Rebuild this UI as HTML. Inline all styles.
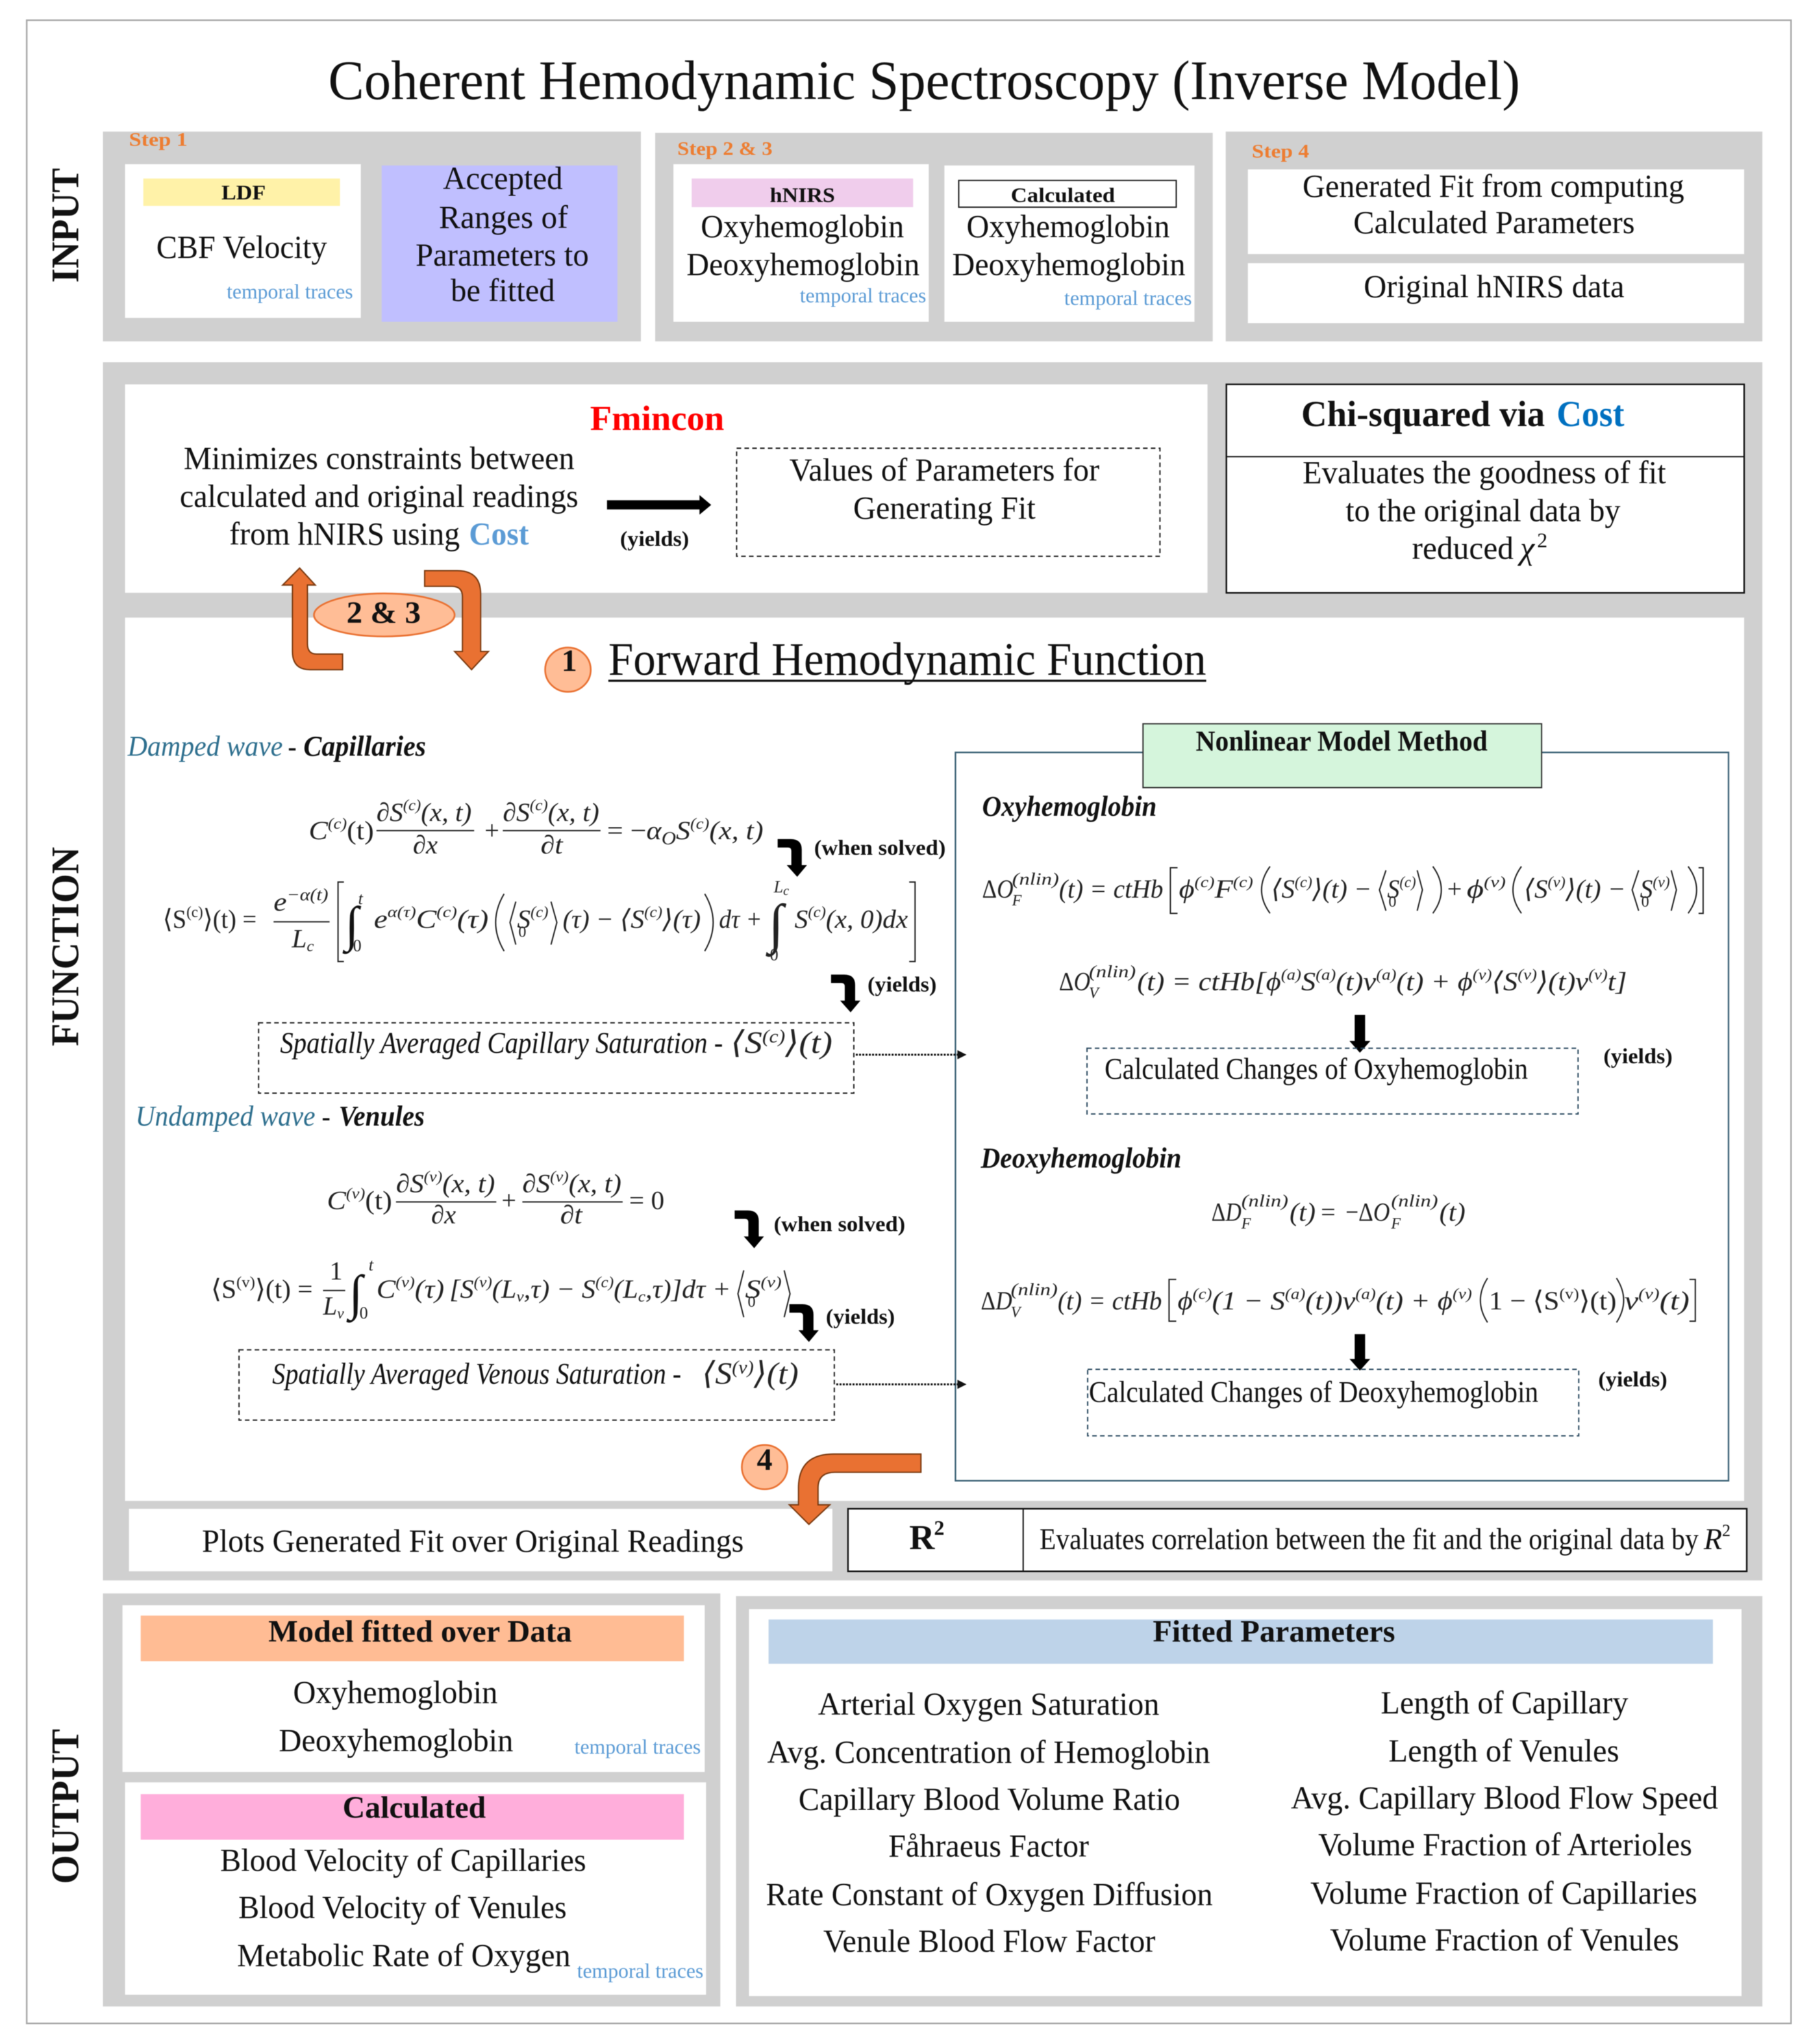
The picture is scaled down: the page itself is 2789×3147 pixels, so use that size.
<!DOCTYPE html>
<html><head><meta charset="utf-8"><style>
html,body{margin:0;padding:0;background:#fff}
svg{display:block;filter:blur(.6px)}
text{font-family:"Liberation Serif","DejaVu Serif",serif;fill:#111;font-size:25px}
.b{font-weight:bold}
.tt{fill:#5b9bd5;font-size:16px}
.st{fill:#ed7d31;font-weight:bold;font-size:15px}
.h{font-weight:bold;font-size:24px}
.y{font-weight:bold;font-size:16.5px}
.m{font-style:italic;font-size:20px;fill:#222}
.i{font-style:italic;font-size:23px}
.bi{font-style:italic;font-weight:bold;font-size:22px}
.p{fill:none;stroke:#222;stroke-width:1}
.g{fill:#d0d0d0}.w{fill:#fff}
.d{fill:none;stroke:#222;stroke-width:1;stroke-dasharray:3.5 2.5}
.o{fill:#e97132;stroke:#7a3a10;stroke-width:1}
</style></head><body>
<svg xmlns="http://www.w3.org/2000/svg" xmlns:xlink="http://www.w3.org/1999/xlink" width="2789" height="3147" viewBox="0 0 1390.3 1568.8">
<defs>
<path id="ca" d="M0,0H10Q18.500,0 18.500,8V20H22.500L15,29L7,20H10.500V9Q10.500,6.500 8,6.500H0Z" fill="#000"/>
</defs>
<rect x="20.500" y="15.500" width="1354.500" height="1537.500" fill="#fff" stroke="#a8a8a8" stroke-width="1.200"/>

<text x="252" y="76" textLength="915" lengthAdjust="spacingAndGlyphs" style="font-size:43px">Coherent Hemodynamic Spectroscopy (Inverse Model)</text>

<text transform="translate(60,217) rotate(-90)" class="b" textLength="88" lengthAdjust="spacingAndGlyphs" style="font-size:30px">INPUT</text>
<text transform="translate(60,803) rotate(-90)" class="b" textLength="153" lengthAdjust="spacingAndGlyphs" style="font-size:30px">FUNCTION</text>
<text transform="translate(60,1446) rotate(-90)" class="b" textLength="119" lengthAdjust="spacingAndGlyphs" style="font-size:30px">OUTPUT</text>

<!-- INPUT -->
<rect class="g" x="79" y="101" width="413" height="161"/>
<rect class="g" x="503" y="102" width="428" height="160"/>
<rect class="g" x="941" y="101" width="412" height="161"/>
<text class="st" x="99" y="112" textLength="45" lengthAdjust="spacingAndGlyphs">Step 1</text>
<rect class="w" x="96" y="126" width="181" height="118"/>
<rect x="110" y="137" width="151" height="21" fill="#fff2a8"/>
<text class="b" x="170" y="153" textLength="34" lengthAdjust="spacingAndGlyphs" style="font-size:16px">LDF</text>
<text x="120" y="198" textLength="131" lengthAdjust="spacingAndGlyphs">CBF Velocity</text>
<text class="tt" x="174" y="229" textLength="97" lengthAdjust="spacingAndGlyphs">temporal traces</text>
<rect x="293" y="127" width="181" height="120" fill="#c0bfff"/>
<text x="340" y="145" textLength="92" lengthAdjust="spacingAndGlyphs">Accepted</text>
<text x="337" y="175" textLength="99" lengthAdjust="spacingAndGlyphs">Ranges of</text>
<text x="319" y="204" textLength="133" lengthAdjust="spacingAndGlyphs">Parameters to</text>
<text x="346" y="231" textLength="80" lengthAdjust="spacingAndGlyphs">be fitted</text>

<text class="st" x="520" y="119" textLength="73" lengthAdjust="spacingAndGlyphs">Step 2 &amp; 3</text>
<rect class="w" x="517" y="126" width="196" height="121"/>
<rect x="531" y="137" width="170" height="22" fill="#f0cdec"/>
<text class="b" x="591" y="155" textLength="50" lengthAdjust="spacingAndGlyphs" style="font-size:16px">hNIRS</text>
<text x="538" y="182" textLength="156" lengthAdjust="spacingAndGlyphs">Oxyhemoglobin</text>
<text x="527" y="211" textLength="179" lengthAdjust="spacingAndGlyphs">Deoxyhemoglobin</text>
<text class="tt" x="614" y="232" textLength="97" lengthAdjust="spacingAndGlyphs">temporal traces</text>
<rect class="w" x="725" y="127" width="192" height="120"/>
<rect x="736" y="138.500" width="167" height="20.500" fill="#fff" stroke="#222"/>
<text class="b" x="776" y="155" textLength="80" lengthAdjust="spacingAndGlyphs" style="font-size:16px">Calculated</text>
<text x="742" y="182" textLength="156" lengthAdjust="spacingAndGlyphs">Oxyhemoglobin</text>
<text x="731" y="211" textLength="179" lengthAdjust="spacingAndGlyphs">Deoxyhemoglobin</text>
<text class="tt" x="817" y="234" textLength="98" lengthAdjust="spacingAndGlyphs">temporal traces</text>

<text class="st" x="961" y="121" textLength="44" lengthAdjust="spacingAndGlyphs">Step 4</text>
<rect class="w" x="958" y="130" width="381" height="65"/>
<rect class="w" x="958" y="202" width="381" height="46"/>
<text x="1000" y="151" textLength="293" lengthAdjust="spacingAndGlyphs">Generated Fit from computing</text>
<text x="1039" y="179" textLength="216" lengthAdjust="spacingAndGlyphs">Calculated Parameters</text>
<text x="1047" y="228" textLength="200" lengthAdjust="spacingAndGlyphs">Original hNIRS data</text>

<!-- FUNCTION -->
<rect class="g" x="79" y="278" width="1274" height="935"/>
<rect class="w" x="96" y="295" width="831" height="160"/>
<text class="b" x="453" y="330" textLength="103" lengthAdjust="spacingAndGlyphs" style="fill:#f00;font-size:27px">Fmincon</text>
<text x="141" y="360" textLength="300" lengthAdjust="spacingAndGlyphs">Minimizes constraints between</text>
<text x="138" y="389" textLength="306" lengthAdjust="spacingAndGlyphs">calculated and original readings</text>
<text x="176" y="418" textLength="177" lengthAdjust="spacingAndGlyphs">from hNIRS using</text>
<text class="b" x="360" y="418" textLength="46" lengthAdjust="spacingAndGlyphs" style="fill:#5b9bd5">Cost</text>
<path d="M466,384H537V380L546,387.500L537,395V391H466Z" fill="#000"/>
<text class="y" x="476" y="419" textLength="53" lengthAdjust="spacingAndGlyphs">(yields)</text>
<rect class="d" x="565.500" y="344" width="325" height="83"/>
<text x="606" y="369" textLength="238" lengthAdjust="spacingAndGlyphs">Values of Parameters for</text>
<text x="655" y="398" textLength="140" lengthAdjust="spacingAndGlyphs">Generating Fit</text>

<rect x="941.500" y="295" width="397.500" height="160" fill="#fff" stroke="#111" stroke-width="1.200"/>
<path d="M941.500,350.500H1339" stroke="#111" stroke-width="1"/>
<text class="b" x="999" y="327" textLength="187" lengthAdjust="spacingAndGlyphs" style="font-size:28px">Chi-squared via</text>
<text class="b" x="1195" y="327" textLength="52" lengthAdjust="spacingAndGlyphs" style="font-size:28px;fill:#0070c0">Cost</text>
<text x="1000" y="371" textLength="279" lengthAdjust="spacingAndGlyphs">Evaluates the goodness of fit</text>
<text x="1033" y="400" textLength="211" lengthAdjust="spacingAndGlyphs">to the original data by</text>
<text x="1084" y="429" textLength="78" lengthAdjust="spacingAndGlyphs">reduced</text>
<text x="1167" y="429" style="font-style:italic">χ</text>
<text x="1180" y="420" style="font-size:16px">2</text>

<rect class="w" x="96" y="474" width="1243" height="678"/>
<rect class="w" x="99" y="1158" width="540" height="48"/>
<text x="155" y="1191" textLength="416" lengthAdjust="spacingAndGlyphs">Plots Generated Fit over Original Readings</text>
<rect x="651" y="1158" width="690" height="48" fill="#fff" stroke="#111" stroke-width="1.200"/>
<path d="M785.500,1158V1206" stroke="#111"/>
<text class="b" x="698" y="1189" style="font-size:27px">R</text>
<text class="b" x="717" y="1178" style="font-size:16px">2</text>
<text x="798" y="1189" textLength="506" lengthAdjust="spacingAndGlyphs" style="font-size:23px">Evaluates correlation between the fit and the original data by</text>
<text x="1308" y="1189" style="font-style:italic;font-size:23px">R</text>
<text x="1322" y="1179" style="font-size:13px">2</text>

<!-- loop arrows -->
<path class="o" d="M230,436L242,449H236V494Q236,502 243,502H263V514H238Q224.500,514 224.500,500V449H217Z"/>
<path class="o" d="M326,438H351Q369,438 369,456V500H375L362,514L349,500H355V458Q355,450 347,450H326Z"/>
<ellipse cx="295" cy="472" rx="54" ry="16.500" fill="#ffbd96" stroke="#e97132" stroke-width="1.300"/>
<text class="b" x="266" y="478" textLength="57" lengthAdjust="spacingAndGlyphs" style="font-size:24px">2 &amp; 3</text>
<ellipse cx="436" cy="514" rx="17.500" ry="17" fill="#ffbd96" stroke="#e97132" stroke-width="1.300"/>
<text class="b" x="431" y="515" style="font-size:24px">1</text>
<text x="467" y="518" textLength="459" lengthAdjust="spacingAndGlyphs" style="font-size:36px">Forward Hemodynamic Function</text>
<path d="M467,522.500H926" stroke="#111" stroke-width="1.600"/>

<!-- Left equations -->
<text x="98" y="580" textLength="119" lengthAdjust="spacingAndGlyphs" style="font-style:italic;font-size:22px;fill:#2e6f8e">Damped wave</text>
<text class="b" x="221" y="580" style="font-size:20px">-</text>
<text class="bi" x="233" y="580" textLength="94" lengthAdjust="spacingAndGlyphs">Capillaries</text>

<text class="m" x="237" y="644" textLength="50" lengthAdjust="spacingAndGlyphs">C<tspan dy="-8" style="font-size:12px">(c)</tspan><tspan dy="8" style="font-style:normal">(t)</tspan></text>
<text class="m" x="289" y="630" textLength="73" lengthAdjust="spacingAndGlyphs">∂S<tspan dy="-8" style="font-size:12px">(c)</tspan><tspan dy="8">(x, t)</tspan></text>
<path class="p" d="M289,637.500H364M386,637.500H461"/>
<text class="m" x="317" y="655" textLength="19" lengthAdjust="spacingAndGlyphs">∂x</text>
<text class="m" x="372" y="644" style="font-style:normal">+</text>
<text class="m" x="386" y="630" textLength="74" lengthAdjust="spacingAndGlyphs">∂S<tspan dy="-8" style="font-size:12px">(c)</tspan><tspan dy="8">(x, t)</tspan></text>
<text class="m" x="415" y="655" textLength="17" lengthAdjust="spacingAndGlyphs">∂t</text>
<text class="m" x="466" y="644" textLength="120" lengthAdjust="spacingAndGlyphs"><tspan style="font-style:normal">= −</tspan>α<tspan dy="4" style="font-size:14px">O</tspan><tspan dy="-4">S</tspan><tspan dy="-8" style="font-size:12px">(c)</tspan><tspan dy="8">(x, t)</tspan></text>
<use xlink:href="#ca" href="#ca" x="597" y="644"/>
<text class="y" x="625" y="656" textLength="101" lengthAdjust="spacingAndGlyphs">(when solved)</text>

<text class="m" x="125" y="712" textLength="72" lengthAdjust="spacingAndGlyphs" style="font-style:normal">⟨S<tspan dy="-8" style="font-size:12px">(c)</tspan><tspan dy="8">⟩(t) =</tspan></text>
<text class="m" x="210" y="699" textLength="42" lengthAdjust="spacingAndGlyphs">e<tspan dy="-8" style="font-size:13px">−α(t)</tspan></text>
<path class="p" d="M210,707.500H253"/>
<text class="m" x="224" y="727" textLength="17" lengthAdjust="spacingAndGlyphs">L<tspan dy="3" style="font-size:12px">c</tspan></text>
<path class="p" d="M264,677H259.500V738H264M698,677H702.500V738H698"/>
<text x="265" y="722" style="font-size:38px;font-style:italic">∫</text>
<text class="m" x="275" y="694" style="font-size:13px">t</text>
<text class="m" x="271" y="730" style="font-size:13px;font-style:normal">0</text>
<text class="m" x="287" y="712" textLength="88" lengthAdjust="spacingAndGlyphs">e<tspan dy="-8" style="font-size:12px">α(τ)</tspan><tspan dy="8">C</tspan><tspan dy="-8" style="font-size:12px">(c)</tspan><tspan dy="8">(τ)</tspan></text>
<path class="p" d="M387,686Q374,708 387,730M541,686Q554,708 541,730M396,692L391.500,708L396,725M423,692L427.500,708L423,725"/>
<text class="m" x="397" y="712" textLength="24" lengthAdjust="spacingAndGlyphs">S<tspan dy="-8" style="font-size:12px">(c)</tspan></text>
<text class="m" x="398" y="719" style="font-size:12px;font-style:normal">0</text>
<text class="m" x="432" y="712" textLength="39" lengthAdjust="spacingAndGlyphs">(τ) −</text>
<text class="m" x="476" y="712" textLength="62" lengthAdjust="spacingAndGlyphs">⟨S<tspan dy="-8" style="font-size:12px">(c)</tspan><tspan dy="8">⟩(τ)</tspan></text>
<text class="m" x="552" y="712" textLength="33" lengthAdjust="spacingAndGlyphs">dτ +</text>
<text class="m" x="590" y="723" style="font-size:42px">∫</text>
<text class="m" x="594" y="685" style="font-size:13px">L<tspan dy="2" style="font-size:10px">c</tspan></text>
<text class="m" x="591" y="737" style="font-size:13px;font-style:normal">0</text>
<text class="m" x="610" y="712" textLength="87" lengthAdjust="spacingAndGlyphs">S<tspan dy="-8" style="font-size:12px">(c)</tspan><tspan dy="8">(x, 0)dx</tspan></text>
<use xlink:href="#ca" href="#ca" x="638" y="748"/>
<text class="y" x="666" y="761" textLength="53" lengthAdjust="spacingAndGlyphs">(yields)</text>

<rect class="d" x="198.500" y="785" width="457" height="54"/>
<text class="i" x="215" y="808" textLength="340" lengthAdjust="spacingAndGlyphs">Spatially Averaged Capillary Saturation -</text>
<text class="m" x="561" y="808" textLength="78" lengthAdjust="spacingAndGlyphs" style="font-size:24px;font-weight:normal">⟨S<tspan dy="-8" style="font-size:14px">(c)</tspan><tspan dy="8">⟩(t)</tspan></text>

<text x="104" y="864" textLength="138" lengthAdjust="spacingAndGlyphs" style="font-style:italic;font-size:22px;fill:#2e6f8e">Undamped wave</text>
<text class="b" x="247" y="864" style="font-size:20px">-</text>
<text class="bi" x="260" y="864" textLength="66" lengthAdjust="spacingAndGlyphs">Venules</text>

<text class="m" x="251" y="928" textLength="50" lengthAdjust="spacingAndGlyphs">C<tspan dy="-8" style="font-size:12px">(v)</tspan><tspan dy="8" style="font-style:normal">(t)</tspan></text>
<text class="m" x="304" y="915" textLength="76" lengthAdjust="spacingAndGlyphs">∂S<tspan dy="-8" style="font-size:12px">(v)</tspan><tspan dy="8">(x, t)</tspan></text>
<path class="p" d="M304,922.500H381M401,922.500H478"/>
<text class="m" x="331" y="939" textLength="19" lengthAdjust="spacingAndGlyphs">∂x</text>
<text class="m" x="385" y="928" style="font-style:normal">+</text>
<text class="m" x="401" y="915" textLength="76" lengthAdjust="spacingAndGlyphs">∂S<tspan dy="-8" style="font-size:12px">(v)</tspan><tspan dy="8">(x, t)</tspan></text>
<text class="m" x="430" y="939" textLength="17" lengthAdjust="spacingAndGlyphs">∂t</text>
<text class="m" x="483" y="928" textLength="27" lengthAdjust="spacingAndGlyphs" style="font-style:normal">= 0</text>
<use xlink:href="#ca" href="#ca" x="564" y="929"/>
<text class="y" x="594" y="945" textLength="101" lengthAdjust="spacingAndGlyphs">(when solved)</text>

<text class="m" x="162" y="996" textLength="78" lengthAdjust="spacingAndGlyphs" style="font-style:normal">⟨S<tspan dy="-8" style="font-size:12px">(v)</tspan><tspan dy="8">⟩(t) =</tspan></text>
<text class="m" x="253" y="982" style="font-style:normal">1</text>
<path class="p" d="M248,990.500H265"/>
<text class="m" x="248" y="1009" textLength="16" lengthAdjust="spacingAndGlyphs">L<tspan dy="3" style="font-size:12px">v</tspan></text>
<text x="268" y="1005" style="font-size:38px;font-style:italic">∫</text>
<text class="m" x="283" y="975" style="font-size:13px">t</text>
<text class="m" x="276" y="1012" style="font-size:13px;font-style:normal">0</text>
<text class="m" x="289" y="996" textLength="52" lengthAdjust="spacingAndGlyphs">C<tspan dy="-8" style="font-size:12px">(v)</tspan><tspan dy="8">(τ)</tspan></text>
<text class="m" x="345" y="996" textLength="216" lengthAdjust="spacingAndGlyphs">[S<tspan dy="-8" style="font-size:12px">(v)</tspan><tspan dy="8">(L</tspan><tspan dy="3" style="font-size:12px">v</tspan><tspan dy="-3">,τ) − S</tspan><tspan dy="-8" style="font-size:12px">(c)</tspan><tspan dy="8">(L</tspan><tspan dy="3" style="font-size:12px">c</tspan><tspan dy="-3">,τ)]dτ +</tspan></text>
<path class="p" d="M571,975L566.500,993L571,1011M602,975L606.500,993L602,1011"/>
<text class="m" x="572" y="996" textLength="28" lengthAdjust="spacingAndGlyphs">S<tspan dy="-8" style="font-size:12px">(v)</tspan></text>
<text class="m" x="574" y="1003" style="font-size:12px;font-style:normal">0</text>
<use xlink:href="#ca" href="#ca" x="606" y="1001"/>
<text class="y" x="634" y="1016" textLength="53" lengthAdjust="spacingAndGlyphs">(yields)</text>

<rect class="d" x="183.500" y="1036" width="457" height="54"/>
<text class="i" x="209" y="1062" textLength="314" lengthAdjust="spacingAndGlyphs">Spatially Averaged Venous Saturation -</text>
<text class="m" x="539" y="1062" textLength="74" lengthAdjust="spacingAndGlyphs" style="font-size:24px">⟨S<tspan dy="-8" style="font-size:14px">(v)</tspan><tspan dy="8">⟩(t)</tspan></text>

<ellipse cx="587" cy="1126" rx="17.500" ry="17" fill="#ffbd96" stroke="#e97132" stroke-width="1.300"/>
<text class="b" x="581" y="1128" style="font-size:24px">4</text>
<path class="o" d="M707,1116H640Q613,1116 613,1142V1155H606L621,1170L637,1155H628V1142Q628,1130 641,1130H707Z"/>

<!-- Nonlinear box -->
<rect x="733.500" y="577.500" width="593.500" height="559" fill="#fff" stroke="#3f6478" stroke-width="1.200"/>
<path d="M657,809.500H735M642,1062.500H735" stroke="#111" stroke-width="1.500" stroke-dasharray="1.500 1"/>
<path d="M735,806L742,809.500L735,813ZM735,1059L742,1062.500L735,1066Z" fill="#111"/>
<rect x="877.500" y="555.500" width="306" height="49" fill="#d5f5dc" stroke="#333" stroke-width="1"/>
<text class="b" x="918" y="576" textLength="224" lengthAdjust="spacingAndGlyphs" style="font-size:22px">Nonlinear Model Method</text>
<text class="bi" x="754" y="626" textLength="134" lengthAdjust="spacingAndGlyphs">Oxyhemoglobin</text>

<text class="m" x="754" y="689" textLength="24" lengthAdjust="spacingAndGlyphs"><tspan style="font-style:normal">Δ</tspan>O</text>
<text class="m" x="777" y="679" textLength="36" lengthAdjust="spacingAndGlyphs" style="font-size:13px">(nlin)</text>
<text class="m" x="777" y="695" style="font-size:12px">F</text>
<text class="m" x="813" y="689" textLength="80" lengthAdjust="spacingAndGlyphs">(t) = ctHb</text>
<path class="p" d="M904,666H898.500V701H904M1304,666H1307.500V701H1304"/>
<text class="m" x="905" y="689" textLength="57" lengthAdjust="spacingAndGlyphs">ϕ<tspan dy="-8" style="font-size:12px">(c)</tspan><tspan dy="8">F</tspan><tspan dy="-8" style="font-size:12px">(c)</tspan></text>
<path class="p" d="M975,665Q962,683 975,701M1100,665Q1113,683 1100,701M1168,665Q1155,683 1168,701M1296,665Q1309,683 1296,701M1064,668L1059,683L1064,699M1088,668L1092,683L1088,699M1258,668L1253,683L1258,699M1283,668L1287,683L1283,699"/>
<text class="m" x="976" y="689" textLength="77" lengthAdjust="spacingAndGlyphs">⟨S<tspan dy="-8" style="font-size:12px">(c)</tspan><tspan dy="8">⟩(t) −</tspan></text>
<text class="m" x="1065" y="689" textLength="22" lengthAdjust="spacingAndGlyphs">S<tspan dy="-8" style="font-size:12px">(c)</tspan></text>
<text class="m" x="1066" y="696" style="font-size:12px;font-style:normal">0</text>
<text class="m" x="1111" y="689" style="font-style:normal">+</text>
<text class="m" x="1126" y="689" textLength="30" lengthAdjust="spacingAndGlyphs">ϕ<tspan dy="-8" style="font-size:12px">(v)</tspan></text>
<text class="m" x="1170" y="689" textLength="78" lengthAdjust="spacingAndGlyphs">⟨S<tspan dy="-8" style="font-size:12px">(v)</tspan><tspan dy="8">⟩(t) −</tspan></text>
<text class="m" x="1259" y="689" textLength="23" lengthAdjust="spacingAndGlyphs">S<tspan dy="-8" style="font-size:12px">(v)</tspan></text>
<text class="m" x="1260" y="696" style="font-size:12px;font-style:normal">0</text>

<text class="m" x="813" y="760" textLength="24" lengthAdjust="spacingAndGlyphs"><tspan style="font-style:normal">Δ</tspan>O</text>
<text class="m" x="836" y="750" textLength="36" lengthAdjust="spacingAndGlyphs" style="font-size:13px">(nlin)</text>
<text class="m" x="836" y="766" style="font-size:12px">V</text>
<text class="m" x="873" y="760" textLength="376" lengthAdjust="spacingAndGlyphs">(t) = ctHb[ϕ<tspan dy="-8" style="font-size:12px">(a)</tspan><tspan dy="8">S</tspan><tspan dy="-8" style="font-size:12px">(a)</tspan><tspan dy="8">(t)v</tspan><tspan dy="-8" style="font-size:12px">(a)</tspan><tspan dy="8">(t) + ϕ</tspan><tspan dy="-8" style="font-size:12px">(v)</tspan><tspan dy="8">⟨S</tspan><tspan dy="-8" style="font-size:12px">(v)</tspan><tspan dy="8">⟩(t)v</tspan><tspan dy="-8" style="font-size:12px">(v)</tspan><tspan dy="8">t]</tspan></text>
<path d="M1040,779H1048V799H1052L1044,808L1036,799H1040Z" fill="#000"/>
<rect x="834.500" y="804.500" width="377" height="50.500" fill="none" stroke="#2b4a60" stroke-width="1" stroke-dasharray="3.500 2.500"/>
<text x="848" y="828" textLength="325" lengthAdjust="spacingAndGlyphs" style="font-size:23px">Calculated Changes of Oxyhemoglobin</text>
<text class="y" x="1231" y="816" textLength="53" lengthAdjust="spacingAndGlyphs">(yields)</text>

<text class="bi" x="753" y="896" textLength="154" lengthAdjust="spacingAndGlyphs">Deoxyhemoglobin</text>
<text class="m" x="930" y="937" textLength="23" lengthAdjust="spacingAndGlyphs"><tspan style="font-style:normal">Δ</tspan>D</text>
<text class="m" x="953" y="926" textLength="36" lengthAdjust="spacingAndGlyphs" style="font-size:13px">(nlin)</text>
<text class="m" x="953" y="943" style="font-size:12px">F</text>
<text class="m" x="990" y="937" textLength="20" lengthAdjust="spacingAndGlyphs">(t)</text>
<text class="m" x="1014" y="937" style="font-style:normal">=</text>
<text class="m" x="1033" y="937" textLength="34" lengthAdjust="spacingAndGlyphs"><tspan style="font-style:normal">−Δ</tspan>O</text>
<text class="m" x="1068" y="926" textLength="36" lengthAdjust="spacingAndGlyphs" style="font-size:13px">(nlin)</text>
<text class="m" x="1068" y="943" style="font-size:12px">F</text>
<text class="m" x="1105" y="937" textLength="20" lengthAdjust="spacingAndGlyphs">(t)</text>

<text class="m" x="753" y="1005" textLength="24" lengthAdjust="spacingAndGlyphs"><tspan style="font-style:normal">Δ</tspan>D</text>
<text class="m" x="776" y="994" textLength="36" lengthAdjust="spacingAndGlyphs" style="font-size:13px">(nlin)</text>
<text class="m" x="776" y="1011" style="font-size:12px">V</text>
<text class="m" x="812" y="1005" textLength="80" lengthAdjust="spacingAndGlyphs">(t) = ctHb</text>
<path class="p" d="M903,982H897.500V1014H903M1297,982H1301.500V1014H1297"/>
<text class="m" x="904" y="1005" textLength="226" lengthAdjust="spacingAndGlyphs">ϕ<tspan dy="-8" style="font-size:12px">(c)</tspan><tspan dy="8">(1 − S</tspan><tspan dy="-8" style="font-size:12px">(a)</tspan><tspan dy="8">(t))v</tspan><tspan dy="-8" style="font-size:12px">(a)</tspan><tspan dy="8">(t) + ϕ</tspan><tspan dy="-8" style="font-size:12px">(v)</tspan></text>
<path class="p" d="M1142,981Q1131,998 1142,1015M1241,981Q1252,998 1241,1015"/>
<text class="m" x="1143" y="1005" textLength="98" lengthAdjust="spacingAndGlyphs" style="font-style:normal">1 − ⟨S<tspan dy="-8" style="font-size:12px">(v)</tspan><tspan dy="8">⟩(t)</tspan></text>
<text class="m" x="1247" y="1005" textLength="50" lengthAdjust="spacingAndGlyphs">v<tspan dy="-8" style="font-size:12px">(v)</tspan><tspan dy="8">(t)</tspan></text>
<path d="M1040,1024H1048V1043H1052L1044,1052L1036,1043H1040Z" fill="#000"/>
<rect x="835" y="1051" width="377" height="51" fill="none" stroke="#2b4a60" stroke-width="1" stroke-dasharray="3.500 2.500"/>
<text x="836" y="1076" textLength="345" lengthAdjust="spacingAndGlyphs" style="font-size:23px">Calculated Changes of Deoxyhemoglobin</text>
<text class="y" x="1227" y="1064" textLength="53" lengthAdjust="spacingAndGlyphs">(yields)</text>

<!-- OUTPUT -->
<rect class="g" x="79" y="1223" width="474" height="317"/>
<rect class="w" x="94" y="1232" width="447" height="128"/>
<rect x="108" y="1240" width="417" height="35" fill="#ffbc94"/>
<text class="h" x="206" y="1260" textLength="233" lengthAdjust="spacingAndGlyphs">Model fitted over Data</text>
<text x="225" y="1307" textLength="157" lengthAdjust="spacingAndGlyphs">Oxyhemoglobin</text>
<text x="214" y="1344" textLength="180" lengthAdjust="spacingAndGlyphs">Deoxyhemoglobin</text>
<text class="tt" x="441" y="1346" textLength="97" lengthAdjust="spacingAndGlyphs">temporal traces</text>
<rect class="w" x="96" y="1368" width="446" height="163"/>
<rect x="108" y="1377" width="417" height="35" fill="#ffaedb"/>
<text class="h" x="263" y="1395" textLength="110" lengthAdjust="spacingAndGlyphs">Calculated</text>
<text x="169" y="1436" textLength="281" lengthAdjust="spacingAndGlyphs">Blood Velocity of Capillaries</text>
<text x="183" y="1472" textLength="252" lengthAdjust="spacingAndGlyphs">Blood Velocity of Venules</text>
<text x="182" y="1509" textLength="256" lengthAdjust="spacingAndGlyphs">Metabolic Rate of Oxygen</text>
<text class="tt" x="443" y="1518" textLength="97" lengthAdjust="spacingAndGlyphs">temporal traces</text>

<rect class="g" x="565" y="1225" width="788" height="315"/>
<rect class="w" x="575" y="1235" width="762" height="297"/>
<rect x="590" y="1243" width="725" height="34" fill="#bed3e9"/>
<text class="h" x="885" y="1260" textLength="186" lengthAdjust="spacingAndGlyphs">Fitted Parameters</text>
<text x="628" y="1316" textLength="262" lengthAdjust="spacingAndGlyphs">Arterial Oxygen Saturation</text>
<text x="589" y="1353" textLength="340" lengthAdjust="spacingAndGlyphs">Avg. Concentration of Hemoglobin</text>
<text x="613" y="1389" textLength="293" lengthAdjust="spacingAndGlyphs">Capillary Blood Volume Ratio</text>
<text x="682" y="1425" textLength="154" lengthAdjust="spacingAndGlyphs">Fåhraeus Factor</text>
<text x="588" y="1462" textLength="343" lengthAdjust="spacingAndGlyphs">Rate Constant of Oxygen Diffusion</text>
<text x="632" y="1498" textLength="255" lengthAdjust="spacingAndGlyphs">Venule Blood Flow Factor</text>
<text x="1060" y="1315" textLength="190" lengthAdjust="spacingAndGlyphs">Length of Capillary</text>
<text x="1066" y="1352" textLength="177" lengthAdjust="spacingAndGlyphs">Length of Venules</text>
<text x="991" y="1388" textLength="328" lengthAdjust="spacingAndGlyphs">Avg. Capillary Blood Flow Speed</text>
<text x="1012" y="1424" textLength="287" lengthAdjust="spacingAndGlyphs">Volume Fraction of Arterioles</text>
<text x="1006" y="1461" textLength="297" lengthAdjust="spacingAndGlyphs">Volume Fraction of Capillaries</text>
<text x="1021" y="1497" textLength="268" lengthAdjust="spacingAndGlyphs">Volume Fraction of Venules</text>
</svg>
</body></html>
